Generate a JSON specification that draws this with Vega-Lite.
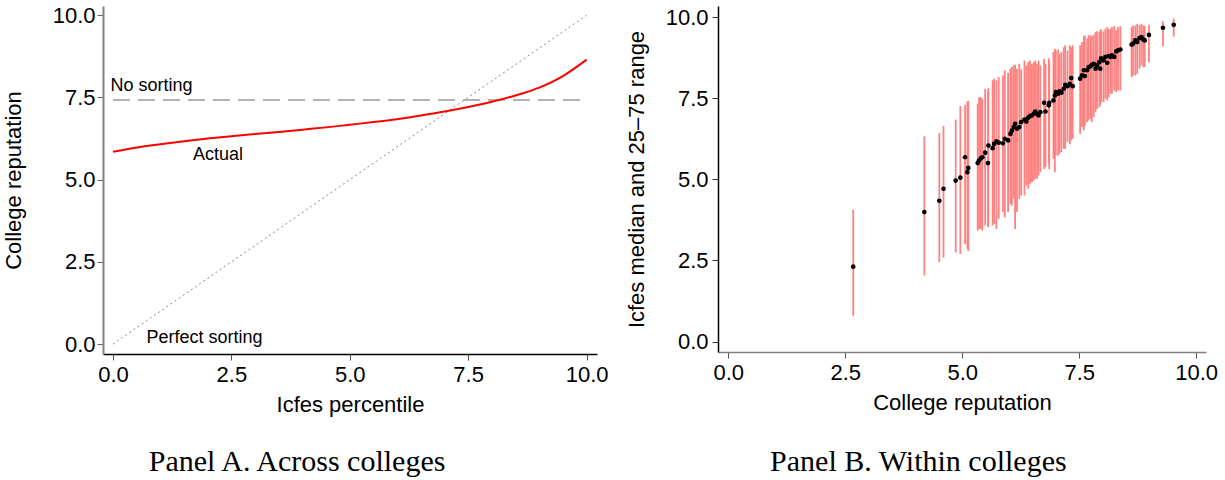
{
  "$schema": "https://vega.github.io/schema/vega-lite/v6.json",
  "background": "white",
  "padding": {"left": 2, "top": 4, "right": 5, "bottom": 0},
  "spacing": 17,
  "config": {
    "view": {"stroke": null},
    "axis": {
      "labelFont": "Liberation Sans", "titleFont": "Liberation Sans",
      "labelFontSize": 22, "titleFontSize": 22, "titleFontWeight": "normal",
      "labelColor": "#000", "titleColor": "#000", "grid": false,
      "tickSize": 6, "tickWidth": 1, "domainWidth": 1.5,
      "labelFlush": false, "labelOverlap": false
    },
    "title": {"font": "Liberation Serif", "fontSize": 30, "fontWeight": "normal", "color": "#000"}
  },
  "datasets": {
    "curve": [
      {"x": 0, "y": 5.85}, {"x": 0.5, "y": 5.98}, {"x": 1, "y": 6.08}, {"x": 1.5, "y": 6.17},
      {"x": 2, "y": 6.25}, {"x": 2.5, "y": 6.32}, {"x": 3, "y": 6.39}, {"x": 3.5, "y": 6.45},
      {"x": 4, "y": 6.52}, {"x": 4.5, "y": 6.59}, {"x": 5, "y": 6.67}, {"x": 5.5, "y": 6.75},
      {"x": 6, "y": 6.84}, {"x": 6.5, "y": 6.95}, {"x": 7, "y": 7.07}, {"x": 7.5, "y": 7.21},
      {"x": 8, "y": 7.37}, {"x": 8.5, "y": 7.56}, {"x": 9, "y": 7.8}, {"x": 9.5, "y": 8.15},
      {"x": 10, "y": 8.65}
    ],
    "colleges": [
      {"r": 2.67, "m": 2.31, "lo": 0.8, "hi": 4.06},
      {"r": 4.19, "m": 3.99, "lo": 2.04, "hi": 6.32},
      {"r": 4.51, "m": 4.34, "lo": 2.45, "hi": 6.43},
      {"r": 4.6, "m": 4.71, "lo": 2.59, "hi": 6.64},
      {"r": 4.86, "m": 4.96, "lo": 2.75, "hi": 6.84},
      {"r": 4.96, "m": 5.05, "lo": 2.7, "hi": 7.26},
      {"r": 5.06, "m": 5.68, "lo": 3.01, "hi": 7.3},
      {"r": 5.11, "m": 5.22, "lo": 2.86, "hi": 7.4},
      {"r": 5.13, "m": 5.35, "lo": 2.79, "hi": 7.42},
      {"r": 5.33, "m": 5.5, "lo": 3.42, "hi": 7.33},
      {"r": 5.36, "m": 5.58, "lo": 3.47, "hi": 7.53},
      {"r": 5.4, "m": 5.65, "lo": 3.47, "hi": 7.53},
      {"r": 5.43, "m": 5.68, "lo": 3.42, "hi": 7.48},
      {"r": 5.49, "m": 5.82, "lo": 3.58, "hi": 7.79},
      {"r": 5.55, "m": 5.5, "lo": 3.53, "hi": 7.74},
      {"r": 5.56, "m": 6.04, "lo": 3.53, "hi": 7.81},
      {"r": 5.65, "m": 5.96, "lo": 3.58, "hi": 8.05},
      {"r": 5.68, "m": 6.09, "lo": 3.63, "hi": 8.1},
      {"r": 5.73, "m": 6.17, "lo": 3.47, "hi": 8.05},
      {"r": 5.78, "m": 6.13, "lo": 3.78, "hi": 8.15},
      {"r": 5.87, "m": 6.11, "lo": 3.99, "hi": 8.2},
      {"r": 5.91, "m": 6.25, "lo": 3.83, "hi": 8.36},
      {"r": 5.98, "m": 6.2, "lo": 3.99, "hi": 8.28},
      {"r": 6.03, "m": 6.4, "lo": 4.24, "hi": 8.41},
      {"r": 6.06, "m": 6.5, "lo": 4.19, "hi": 8.46},
      {"r": 6.1, "m": 6.61, "lo": 4.4, "hi": 8.51},
      {"r": 6.13, "m": 6.71, "lo": 3.47, "hi": 8.53},
      {"r": 6.17, "m": 6.56, "lo": 3.99, "hi": 8.41},
      {"r": 6.22, "m": 6.61, "lo": 4.4, "hi": 8.56},
      {"r": 6.26, "m": 6.76, "lo": 4.5, "hi": 8.39},
      {"r": 6.33, "m": 6.84, "lo": 4.5, "hi": 8.66},
      {"r": 6.37, "m": 6.78, "lo": 4.81, "hi": 8.51},
      {"r": 6.41, "m": 6.9, "lo": 4.71, "hi": 8.61},
      {"r": 6.45, "m": 6.95, "lo": 4.86, "hi": 8.66},
      {"r": 6.49, "m": 6.97, "lo": 4.91, "hi": 8.56},
      {"r": 6.53, "m": 7.02, "lo": 4.96, "hi": 8.61},
      {"r": 6.56, "m": 7.09, "lo": 5.02, "hi": 8.66},
      {"r": 6.6, "m": 7.02, "lo": 5.02, "hi": 8.56},
      {"r": 6.63, "m": 6.97, "lo": 5.12, "hi": 8.66},
      {"r": 6.67, "m": 7.07, "lo": 5.22, "hi": 8.51},
      {"r": 6.75, "m": 7.36, "lo": 5.32, "hi": 8.71},
      {"r": 6.78, "m": 7.09, "lo": 5.37, "hi": 8.56},
      {"r": 6.85, "m": 7.28, "lo": 5.48, "hi": 8.73},
      {"r": 6.86, "m": 7.36, "lo": 5.32, "hi": 8.66},
      {"r": 6.95, "m": 7.43, "lo": 5.63, "hi": 8.92},
      {"r": 6.98, "m": 7.58, "lo": 5.22, "hi": 9.02},
      {"r": 7.0, "m": 7.69, "lo": 5.73, "hi": 8.97},
      {"r": 7.05, "m": 7.64, "lo": 5.73, "hi": 9.0},
      {"r": 7.08, "m": 7.71, "lo": 5.79, "hi": 8.87},
      {"r": 7.12, "m": 7.67, "lo": 5.84, "hi": 8.92},
      {"r": 7.17, "m": 7.79, "lo": 5.94, "hi": 9.07},
      {"r": 7.2, "m": 7.91, "lo": 5.94, "hi": 9.13},
      {"r": 7.25, "m": 7.87, "lo": 6.15, "hi": 8.97},
      {"r": 7.3, "m": 7.94, "lo": 6.09, "hi": 9.13},
      {"r": 7.33, "m": 8.12, "lo": 6.2, "hi": 9.07},
      {"r": 7.36, "m": 7.87, "lo": 6.25, "hi": 9.13},
      {"r": 7.52, "m": 8.1, "lo": 6.4, "hi": 9.13},
      {"r": 7.56, "m": 8.2, "lo": 6.61, "hi": 9.23},
      {"r": 7.6, "m": 8.36, "lo": 6.51, "hi": 9.41},
      {"r": 7.62, "m": 8.18, "lo": 6.66, "hi": 9.43},
      {"r": 7.67, "m": 8.36, "lo": 6.76, "hi": 9.33},
      {"r": 7.7, "m": 8.46, "lo": 6.81, "hi": 9.45},
      {"r": 7.74, "m": 8.48, "lo": 6.86, "hi": 9.43},
      {"r": 7.77, "m": 8.53, "lo": 6.76, "hi": 9.41},
      {"r": 7.81, "m": 8.56, "lo": 6.92, "hi": 9.45},
      {"r": 7.85, "m": 8.41, "lo": 7.07, "hi": 9.54},
      {"r": 7.88, "m": 8.51, "lo": 7.17, "hi": 9.56},
      {"r": 7.93, "m": 8.61, "lo": 7.22, "hi": 9.54},
      {"r": 7.95, "m": 8.41, "lo": 7.28, "hi": 9.59},
      {"r": 7.97, "m": 8.73, "lo": 7.38, "hi": 9.62},
      {"r": 8.02, "m": 8.66, "lo": 7.38, "hi": 9.56},
      {"r": 8.06, "m": 8.77, "lo": 7.48, "hi": 9.64},
      {"r": 8.1, "m": 8.59, "lo": 7.43, "hi": 9.69},
      {"r": 8.13, "m": 8.8, "lo": 7.53, "hi": 9.62},
      {"r": 8.17, "m": 8.77, "lo": 7.64, "hi": 9.64},
      {"r": 8.2, "m": 8.82, "lo": 7.64, "hi": 9.69},
      {"r": 8.25, "m": 8.77, "lo": 7.74, "hi": 9.72},
      {"r": 8.29, "m": 8.94, "lo": 7.69, "hi": 9.59},
      {"r": 8.33, "m": 8.97, "lo": 7.74, "hi": 9.69},
      {"r": 8.38, "m": 9.0, "lo": 7.74, "hi": 9.72},
      {"r": 8.62, "m": 9.15, "lo": 8.15, "hi": 9.69},
      {"r": 8.65, "m": 9.18, "lo": 8.2, "hi": 9.74},
      {"r": 8.7, "m": 9.28, "lo": 8.2, "hi": 9.74},
      {"r": 8.74, "m": 9.23, "lo": 8.25, "hi": 9.79},
      {"r": 8.79, "m": 9.35, "lo": 8.41, "hi": 9.76},
      {"r": 8.83, "m": 9.38, "lo": 8.51, "hi": 9.79},
      {"r": 8.87, "m": 9.31, "lo": 8.46, "hi": 9.74},
      {"r": 8.9, "m": 9.28, "lo": 8.46, "hi": 9.72},
      {"r": 8.99, "m": 9.45, "lo": 8.61, "hi": 9.76},
      {"r": 9.29, "m": 9.67, "lo": 9.1, "hi": 9.87},
      {"r": 9.52, "m": 9.76, "lo": 9.4, "hi": 9.95}
    ]
  },
  "hconcat": [
    {
      "width": 494, "height": 348,
      "title": {"text": "Panel A. Across colleges", "orient": "bottom", "anchor": "middle", "frame": "bounds", "offset": 32, "dx": -8},
      "layer": [
        {
          "data": {"values": [{"x": 0, "y": 0}, {"x": 10, "y": 10}]},
          "mark": {"type": "line", "color": "#888888", "strokeWidth": 1, "strokeDash": [2, 3]},
          "encoding": {
            "x": {"field": "x", "type": "quantitative", "title": "Icfes percentile",
              "scale": {"domain": [-0.21, 10.22], "nice": false, "zero": false},
              "axis": {"values": [0, 2.5, 5, 7.5, 10], "format": ".1f", "domainColor": "#000", "tickColor": "#555", "labelPadding": 4, "titlePadding": 9}},
            "y": {"field": "y", "type": "quantitative", "title": "College reputation",
              "scale": {"domain": [-0.3, 10.28], "nice": false, "zero": false},
              "axis": {"values": [0, 2.5, 5, 7.5, 10], "format": ".1f", "domainColor": "#808080", "tickColor": "#666", "domainWidth": 2, "labelPadding": 2, "titlePadding": 27}}
          }
        },
        {
          "data": {"values": [{"x": 0, "y": 7.42}, {"x": 10, "y": 7.42}]},
          "mark": {"type": "line", "color": "#999999", "strokeWidth": 1.5, "strokeDash": [17, 8]},
          "encoding": {
            "x": {"field": "x", "type": "quantitative", "title": "Icfes percentile"},
            "y": {"field": "y", "type": "quantitative", "title": "College reputation"}
          }
        },
        {
          "data": {"name": "curve"},
          "mark": {"type": "line", "color": "#ff0000", "strokeWidth": 2, "interpolate": "monotone"},
          "encoding": {
            "x": {"field": "x", "type": "quantitative", "title": "Icfes percentile"},
            "y": {"field": "y", "type": "quantitative", "title": "College reputation"}
          }
        },
        {
          "data": {"values": [
            {"x": -0.05, "y": 7.86, "label": "No sorting"},
            {"x": 1.69, "y": 5.76, "label": "Actual"},
            {"x": 0.71, "y": 0.19, "label": "Perfect sorting"}
          ]},
          "mark": {"type": "text", "align": "left", "baseline": "middle", "font": "Liberation Sans", "fontSize": 18, "color": "#000"},
          "encoding": {
            "x": {"field": "x", "type": "quantitative", "title": "Icfes percentile"},
            "y": {"field": "y", "type": "quantitative", "title": "College reputation"},
            "text": {"field": "label"}
          }
        }
      ]
    },
    {
      "width": 488, "height": 346,
      "title": {"text": "Panel B. Within colleges", "orient": "bottom", "anchor": "middle", "frame": "bounds", "offset": 34, "dx": -3},
      "data": {"name": "colleges"},
      "layer": [
        {
          "mark": {"type": "rule", "color": "#ff8080", "strokeWidth": 1.8},
          "encoding": {
            "x": {"field": "r", "type": "quantitative", "title": "College reputation",
              "scale": {"domain": [-0.22, 10.21], "nice": false, "zero": false},
              "axis": {"values": [0, 2.5, 5, 7.5, 10], "format": ".1f", "domainColor": "#808080", "tickColor": "#555", "labelPadding": 4, "titlePadding": 9}},
            "y": {"field": "lo", "type": "quantitative", "title": "Icfes median and 25–75 range",
              "scale": {"domain": [-0.32, 10.34], "nice": false, "zero": false},
              "axis": {"values": [0, 2.5, 5, 7.5, 10], "format": ".1f", "domainColor": "#000", "tickColor": "#333", "labelPadding": 4, "titlePadding": 17}},
            "y2": {"field": "hi"}
          }
        },
        {
          "mark": {"type": "point", "filled": true, "color": "#000", "size": 22, "opacity": 1},
          "encoding": {
            "x": {"field": "r", "type": "quantitative", "title": "College reputation"},
            "y": {"field": "m", "type": "quantitative", "title": "Icfes median and 25–75 range"}
          }
        }
      ]
    }
  ]
}
